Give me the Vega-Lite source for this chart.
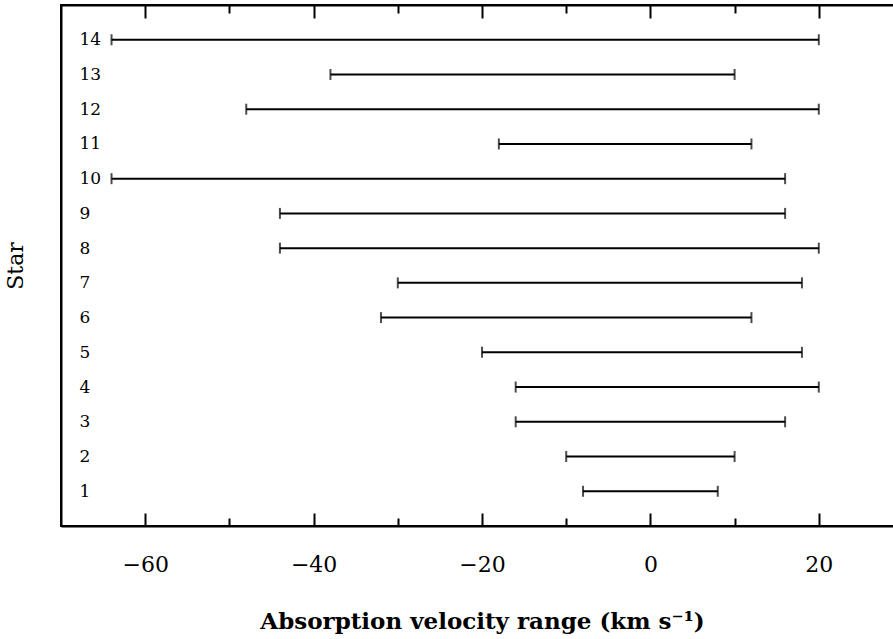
{
  "$schema": "https://vega.github.io/schema/vega-lite/v6.json",
  "width": 842,
  "height": 521,
  "autosize": "none",
  "padding": {"left": 61, "top": 5, "right": 0, "bottom": 113},
  "background": "white",
  "config": {
    "view": {"stroke": "black", "strokeWidth": 2},
    "axis": {
      "grid": false,
      "domainColor": "black",
      "domainWidth": 2,
      "tickColor": "black",
      "tickWidth": 2,
      "labelColor": "black",
      "titleColor": "black"
    }
  },
  "data": {
    "values": [
      {"star": 1, "lo": -8, "hi": 8},
      {"star": 2, "lo": -10, "hi": 10},
      {"star": 3, "lo": -16, "hi": 16},
      {"star": 4, "lo": -16, "hi": 20},
      {"star": 5, "lo": -20, "hi": 18},
      {"star": 6, "lo": -32, "hi": 12},
      {"star": 7, "lo": -30, "hi": 18},
      {"star": 8, "lo": -44, "hi": 20},
      {"star": 9, "lo": -44, "hi": 16},
      {"star": 10, "lo": -64, "hi": 16},
      {"star": 11, "lo": -18, "hi": 12},
      {"star": 12, "lo": -48, "hi": 20},
      {"star": 13, "lo": -38, "hi": 10},
      {"star": 14, "lo": -64, "hi": 20}
    ]
  },
  "encoding": {
    "y": {
      "field": "star",
      "type": "quantitative",
      "scale": {"domain": [0, 15], "nice": false, "zero": false},
      "axis": {
        "values": [1, 2, 3, 4, 5, 6, 7, 8, 9, 10, 11, 12, 13, 14],
        "ticks": false,
        "labelAlign": "left",
        "labelBaseline": "middle",
        "labelPadding": -18,
        "labelFont": "DejaVu Serif",
        "labelFontSize": 17,
        "title": "Star",
        "titleFont": "DejaVu Serif",
        "titleFontSize": 22,
        "titleFontWeight": "normal",
        "titlePadding": 34
      }
    }
  },
  "layer": [
    {
      "mark": {"type": "rule", "strokeWidth": 2, "color": "black"},
      "encoding": {
        "x": {
          "field": "lo",
          "type": "quantitative",
          "scale": {"domain": [-70, 30], "nice": false, "zero": false},
          "axis": {
            "orient": "bottom",
            "values": [-60, -50, -40, -30, -20, -10, 0, 10, 20],
            "tickSize": {"condition": {"test": "datum.value % 20 === 0", "value": -13}, "value": -8},
            "labelExpr": "datum.value % 20 === 0 ? datum.label : ''",
            "labelFont": "DejaVu Serif",
            "labelFontSize": 22,
            "labelPadding": 41,
            "title": "Absorption velocity range (km s⁻¹)",
            "titleFont": "DejaVu Serif",
            "titleFontSize": 23,
            "titleFontWeight": "bold",
            "titlePadding": 35
          }
        },
        "x2": {"field": "hi"}
      }
    },
    {
      "mark": {"type": "tick", "orient": "vertical", "size": 11, "thickness": 2, "color": "black"},
      "encoding": {
        "x": {
          "field": "lo",
          "type": "quantitative",
          "axis": {
            "orient": "top",
            "values": [-60, -50, -40, -30, -20, -10, 0, 10, 20],
            "tickSize": {"condition": {"test": "datum.value % 20 === 0", "value": -13}, "value": -8},
            "labels": false,
            "title": null
          }
        }
      }
    },
    {
      "mark": {"type": "tick", "orient": "vertical", "size": 11, "thickness": 2, "color": "black"},
      "encoding": {
        "x": {"field": "hi", "type": "quantitative", "axis": null}
      }
    }
  ]
}
